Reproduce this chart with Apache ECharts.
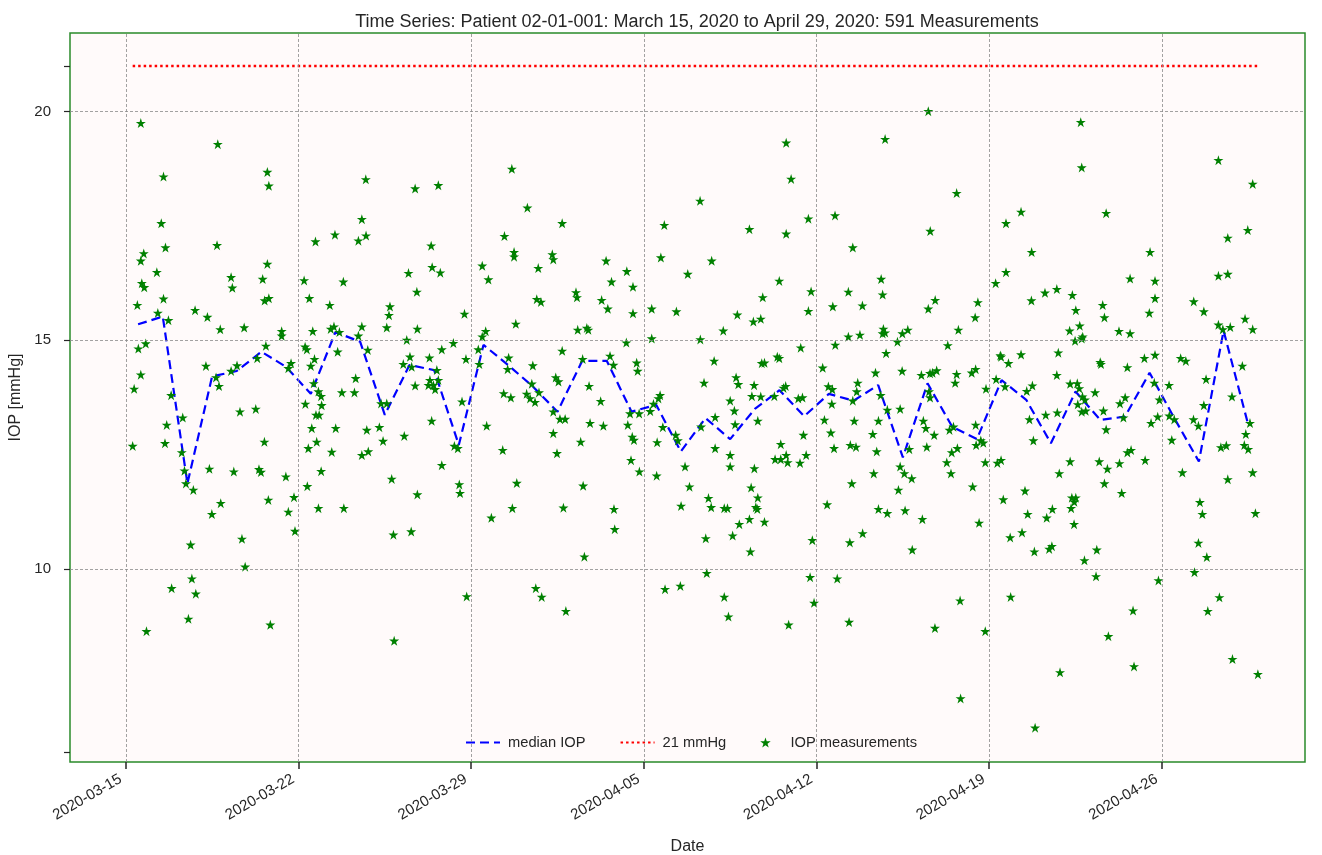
<!DOCTYPE html>
<html>
<head>
<meta charset="utf-8">
<title>IOP time series</title>
<script src="https://cdn.jsdelivr.net/npm/echarts@6/dist/echarts.min.js"></script>
<style>
  html, body { margin: 0; padding: 0; background: #ffffff; }
  #chart { width: 1322px; height: 855px; }
</style>
</head>
<body>
<div id="chart"></div>
<script>
// all times are days since 2020-03-15 00:00 (UTC), pressures in mmHg
const startDate = Date.UTC(2020, 2, 15);
const dayMs = 86400000;

const weekTicks = ["2020-03-15", "2020-03-22", "2020-03-29", "2020-04-05", "2020-04-12", "2020-04-19", "2020-04-26"];
const yLabelValues = [10, 15, 20];
const yTickValues = [6, 10, 15, 20, 21];
const thresholdIop = 21;

// daily median, one value per day (plotted at noon)
const medianIop = [15.35, 15.52, 11.87, 14.21, 14.33, 14.75, 14.42, 13.83, 15.18, 14.97,
  13.37, 14.46, 14.35, 12.71, 14.90, 14.46, 13.99, 13.44, 14.55, 14.55,
  13.44, 13.59, 12.57, 13.30, 12.84, 13.50, 13.91, 13.34, 13.83, 13.68,
  14.02, 12.44, 14.06, 13.11, 12.84, 14.13, 13.70, 12.75, 13.88, 13.26,
  13.33, 14.29, 13.30, 12.35, 15.21, 13.15];

// [day, IOP]
const iopMeasurements = [
  [0.61,19.75],[3.73,19.29],[1.53,18.58],[5.74,18.68],[5.80,18.38],[1.44,17.56],[1.61,17.03],[3.70,17.08],[0.73,16.90],[0.61,16.74],
  [5.74,16.67],[1.26,16.49],[4.27,16.38],[4.32,16.15],[5.55,16.34],[0.65,16.25],[0.75,16.16],[1.53,15.91],[5.63,15.87],[5.80,15.92],
  [0.47,15.77],[2.81,15.66],[3.31,15.51],[1.30,15.60],[1.73,15.44],[3.83,15.24],[4.80,15.28],[6.32,15.20],[6.32,15.10],[7.69,17.16],
  [7.23,16.31],[7.44,15.92],[7.58,15.20],[0.51,14.82],[0.81,14.93],[0.61,14.25],[0.34,13.94],[1.84,13.80],[1.66,13.15],[2.31,13.31],
  [3.25,14.44],[3.66,14.19],[3.78,14.00],[4.27,14.33],[4.51,14.45],[4.63,13.44],[5.27,13.50],[5.68,14.88],[5.33,14.61],[6.70,14.50],
  [6.59,14.39],[7.27,14.86],[7.34,14.80],[7.65,14.59],[7.50,14.44],[7.62,14.06],[7.81,13.88],[7.92,13.78],[7.28,13.61],[7.94,13.58],
  [7.71,13.37],[7.84,13.37],[7.54,13.08],
  [0.28,12.69],[1.59,12.75],[2.27,12.55],[2.38,12.15],[2.44,11.87],[2.74,11.73],[3.39,12.19],[4.38,12.13],[5.40,12.18],[5.48,12.12],
  [5.62,12.78],[6.49,12.02],[5.78,11.51],[6.82,11.57],[6.59,11.25],[6.86,10.83],[3.85,11.44],[3.49,11.20],[2.63,10.53],[4.71,10.66],
  [4.84,10.05],[2.68,9.79],[1.86,9.58],[2.84,9.46],[2.54,8.91],[0.84,8.64],[5.86,8.78],[7.74,12.78],[7.40,12.64],[7.92,12.14],
  [7.36,11.81],[7.81,11.33],
  [9.73,18.52],[11.73,18.32],[12.67,18.39],[15.65,18.75],[16.28,17.90],[9.57,17.65],[8.48,17.31],[9.43,17.18],[9.74,17.29],[12.38,17.07],
  [15.35,17.28],[15.74,16.93],[15.74,16.83],[8.82,16.28],[11.46,16.47],[12.42,16.60],[12.75,16.48],[11.80,16.06],[14.45,16.63],[14.70,16.33],
  [8.27,15.77],[10.71,15.74],[10.67,15.55],[10.58,15.28],[13.73,15.58],[15.81,15.36],[8.31,15.25],[8.44,15.30],[8.66,15.18],[9.57,15.30],
  [9.43,15.10],[11.82,15.25],[11.39,15.01],[14.45,15.08],[14.59,15.20],[8.59,14.75],[9.81,14.79],[11.52,14.64],[12.31,14.62],[12.81,14.80],
  [13.28,14.94],[13.79,14.59],[14.29,14.80],[11.25,14.48],[11.59,14.42],[12.61,14.35],[14.33,14.48],[15.52,14.62],[15.48,14.37],[9.32,14.17],
  [8.76,13.86],[9.27,13.86],[11.73,14.01],[12.33,14.13],[12.47,14.02],[12.27,14.02],[12.54,13.93],[12.67,14.13],[15.32,13.84],[15.61,13.75],
  [10.35,13.62],[10.58,13.62],[13.63,13.66],[12.40,13.24],[8.51,13.08],[9.77,13.04],[10.28,13.10],[14.63,13.13],
  [8.35,12.56],[9.57,12.49],[9.83,12.57],[10.43,12.80],[11.29,12.91],[13.32,12.69],[13.46,12.64],[15.28,12.60],[10.78,11.97],[12.81,12.27],
  [13.52,11.85],[13.55,11.66],[11.82,11.63],[15.85,11.88],[15.67,11.33],[14.82,11.12],[8.84,11.33],[10.85,10.75],[11.57,10.82],[13.82,9.40],
  [10.88,8.43],
  [17.69,17.56],[23.28,18.05],[21.83,17.52],[17.29,16.88],[17.33,16.77],[16.72,16.58],[19.47,16.74],[20.31,16.51],[19.69,16.28],[20.56,16.17],
  [21.69,16.81],[23.75,16.74],[22.78,16.45],[16.66,15.90],[16.83,15.84],[18.25,16.05],[18.29,15.94],[19.29,15.88],[19.54,15.69],[20.56,15.59],
  [21.32,15.69],[22.32,15.63],[18.32,15.23],[18.69,15.27],[18.75,15.23],[24.22,15.21],[21.32,15.04],[20.29,14.95],[23.29,15.02],[17.69,14.77],
  [18.52,14.59],[19.63,14.66],[19.77,14.46],[20.71,14.51],[20.75,14.33],[23.85,14.55],[16.50,14.45],[17.43,14.19],[17.54,14.10],[16.46,14.05],
  [18.78,14.00],[23.44,14.07],[16.25,13.83],[16.39,13.73],[16.59,13.65],[16.75,13.86],[19.25,13.67],[17.33,13.44],[17.60,13.28],[17.81,13.28],
  [18.82,13.19],[19.36,13.13],[20.35,13.15],[20.44,13.40],[20.81,13.40],[21.26,13.45],[21.39,13.61],[21.59,13.73],[21.66,13.80],[21.77,13.10],
  [23.32,13.11],[23.89,13.32],
  [17.33,12.97],[18.44,12.78],[17.48,12.53],[20.53,12.89],[20.60,12.82],[20.48,12.38],[20.82,12.13],[21.54,12.77],[22.29,12.93],[22.38,12.81],
  [23.89,12.64],[18.54,11.82],[21.52,12.04],[22.67,12.24],[22.85,11.80],[23.62,11.55],[23.73,11.35],[22.51,11.38],[17.74,11.34],[19.79,11.31],
  [19.82,10.87],[23.51,10.67],[18.59,10.27],[23.55,9.91],[16.62,9.58],[16.86,9.39],[17.84,9.08],[21.86,9.56],[22.48,9.63],[24.26,9.39],
  [24.26,11.33],
  [26.77,19.32],[26.97,18.53],[30.78,19.40],[25.28,17.43],[26.77,17.33],[27.67,17.66],[28.75,17.73],[29.47,17.03],[26.49,16.30],[27.78,16.07],
  [25.82,15.94],[24.79,15.56],[25.44,15.41],[25.74,15.47],[27.67,15.64],[28.66,15.74],[29.29,16.06],[29.86,15.76],[30.62,16.34],[30.68,16.00],
  [29.29,15.08],[29.76,15.12],[30.71,15.25],[30.78,15.17],[30.68,15.15],[31.28,14.97],[31.48,15.15],[31.70,15.23],[27.36,14.84],[28.76,14.90],
  [30.82,14.72],[25.78,14.50],[25.89,14.51],[26.41,14.64],[26.49,14.61],[28.25,14.40],[30.39,14.29],[31.47,14.33],[32.25,14.24],[24.74,14.19],
  [24.83,14.04],[25.47,14.02],[25.38,13.78],[25.74,13.77],[26.29,13.78],[26.66,13.96],[26.75,14.00],[27.26,13.73],[27.43,13.75],[28.48,13.99],
  [28.64,13.93],[28.62,13.61],[29.47,13.68],[29.67,14.07],[29.63,13.88],[30.60,13.80],[30.87,13.48],[31.39,13.50],[24.50,13.68],[24.67,13.46],
  [24.70,13.16],[25.62,13.24],[28.32,13.26],[29.53,13.24],[30.51,13.24],[32.33,13.24],
  [27.47,12.93],[28.58,12.98],[30.28,12.95],[26.55,12.73],[29.37,12.71],[29.60,12.67],[28.71,12.64],[30.44,12.57],[31.76,12.62],[24.50,12.49],
  [24.50,12.24],[25.48,12.20],[26.32,12.40],[26.55,12.40],[26.77,12.49],[26.83,12.33],[27.33,12.32],[27.58,12.49],[25.35,11.78],[25.62,11.56],
  [24.39,11.33],[25.54,11.35],[25.60,11.31],[25.28,11.09],[25.89,11.03],[24.87,10.98],[24.60,10.73],[25.32,10.38],[27.83,10.63],[27.74,9.82],
  [27.90,9.26],[24.43,8.96],[26.87,8.78],[28.84,9.79],[29.32,8.84],[28.43,11.41],[29.43,11.87],[30.32,12.09],[30.51,11.31],[30.87,11.22],
  [31.59,11.28],[29.87,10.78],[29.35,10.58],[31.39,12.24],[31.56,12.09],[31.86,11.98],[31.32,11.73],[31.88,10.42],[32.29,11.09],
  [32.53,20.01],[38.71,19.77],[38.75,18.78],[33.68,18.22],[39.74,17.78],[32.61,17.39],[35.68,17.56],[36.29,17.81],[36.72,16.93],[35.68,16.49],
  [35.26,16.25],[32.81,15.88],[32.53,15.69],[34.54,15.83],[34.43,15.50],[33.75,15.23],[33.32,14.89],[36.71,15.87],[37.26,16.04],[37.74,16.12],
  [38.37,15.99],[38.51,15.66],[39.60,15.77],[39.67,15.50],[40.26,15.20],[38.26,15.21],[38.67,15.32],[38.48,14.99],[38.75,15.04],[38.79,15.08],
  [35.45,14.67],[35.48,14.64],[35.78,14.50],[36.29,14.69],[37.80,14.73],[39.50,14.52],[39.53,14.48],[32.60,14.28],[32.70,14.29],[32.87,14.34],
  [33.68,14.26],[33.62,14.07],[34.29,14.29],[34.45,14.37],[37.74,14.24],[35.28,14.15],[35.64,13.99],[36.52,13.89],[36.75,14.01],[38.28,14.05],
  [38.57,14.06],[38.65,13.95],[38.78,13.77],[38.59,13.60],[38.75,13.44],[38.91,13.46],[38.88,13.70],[39.29,13.86],[40.30,13.62],[40.51,13.75],
  [39.63,13.46],[32.56,13.88],[32.60,13.75],[34.87,13.94],[33.55,13.11],[34.45,13.15],[36.63,13.27],[37.29,13.37],[37.76,13.42],[39.74,13.05],
  [32.43,13.08],[32.77,12.93],[32.47,12.67],[33.39,13.04],[34.47,12.71],[34.66,12.81],[34.76,12.76],[33.48,12.55],[33.71,12.64],[33.28,12.33],
  [33.45,12.09],[34.84,12.33],[34.33,11.80],[34.59,11.01],[35.33,12.32],[35.48,12.38],[36.79,12.81],[38.28,12.35],[37.84,12.09],[39.46,12.35],
  [39.79,12.19],[40.28,12.31],[39.67,11.87],[40.37,11.66],[36.45,11.71],[35.57,11.52],[36.56,11.20],[35.85,10.69],[36.33,10.80],[36.83,10.38],
  [37.43,10.44],[37.54,10.50],[37.56,11.31],[37.33,11.12],[38.35,11.56],[38.51,11.56],[38.45,11.47],[38.32,11.33],[38.44,10.98],[38.86,10.19],
  [39.36,10.42],[39.33,9.84],[33.82,9.31],[35.87,9.39],[32.80,8.71],[34.84,8.64],[39.83,8.53],[37.87,7.74],[33.84,7.17],[36.86,6.53],
  [44.29,18.94],[45.68,18.42],[45.48,17.41],[44.67,17.24],[41.52,16.93],[40.71,16.35],[41.72,16.30],[44.29,16.41],[44.67,16.45],[41.72,15.92],
  [41.49,15.60],[43.29,15.85],[43.70,15.63],[45.37,15.47],[40.71,15.15],[44.29,15.34],[44.47,15.24],[44.77,15.29],[45.68,15.24],[41.29,14.61],
  [41.72,14.68],[42.76,14.61],[42.97,14.55],[40.60,14.41],[45.26,14.44],[41.69,14.07],[42.29,14.02],[43.79,14.15],[44.84,13.77],[41.90,13.70],
  [43.70,13.58],[40.44,13.31],[41.83,13.33],[42.30,13.35],[42.50,13.27],[43.28,13.27],[43.48,13.13],[41.56,13.19],[45.57,13.19],
  [45.40,12.95],[45.34,12.71],[45.50,12.62],[42.40,12.82],[44.39,12.66],[44.61,12.70],[40.60,12.55],[40.75,12.60],[41.32,12.38],[42.83,12.11],
  [44.67,11.96],[45.68,12.11],[43.54,11.46],[43.64,11.20],[45.79,11.22],[43.48,10.57],[43.82,10.26],[43.32,9.93],[41.86,9.75],[44.33,9.38],
  [43.86,9.08],[40.83,9.09],[40.87,7.87],[44.86,8.03],[45.89,7.70]
];

const toTime = d => startDate + d * dayMs;
const fontFamily = '"Liberation Sans", Arial, sans-serif';
const textColor = '#262626';

// 5 pointed star like matplotlib's "*" marker
function starPath() {
  let p = '';
  for (let i = 0; i < 10; i++) {
    const r = i % 2 === 0 ? 50 : 19.1;
    const a = i * Math.PI / 5;
    p += (i === 0 ? 'M' : 'L') + (50 + r * Math.sin(a)).toFixed(2) + ' ' + (50 - r * Math.cos(a)).toFixed(2);
  }
  return 'path://' + p + 'Z';
}

const scatterData = iopMeasurements.map(m => [toTime(m[0]), m[1]]);
const medianData = medianIop.map((v, i) => [toTime(i + 0.5), v]);
const firstDay = Math.min(...iopMeasurements.map(m => m[0]));
const lastDay = Math.max(...iopMeasurements.map(m => m[0]));
const thresholdData = [[toTime(firstDay), thresholdIop], [toTime(lastDay), thresholdIop]];
const weekTimes = weekTicks.map(d => Date.parse(d));

const chart = echarts.init(document.getElementById('chart'));
chart.setOption({
  animation: false,
  backgroundColor: '#ffffff',
  textStyle: { fontFamily: fontFamily },
  title: {
    text: 'Time Series: Patient 02-01-001: March 15, 2020 to April 29, 2020: 591 Measurements',
    left: 692,
    top: 8,
    textAlign: 'center',
    textStyle: { fontSize: 18, fontWeight: 'normal', color: textColor, fontFamily: fontFamily }
  },
  grid: {
    left: 70, right: 17, top: 33, bottom: 93,
    outerBoundsMode: 'none',
    show: true,
    backgroundColor: '#fffafa',
    borderColor: '#2a8a2a',
    borderWidth: 1.5
  },
  legend: {
    // line series get no marker in the legend, only their stroke
    data: [
      { name: 'median IOP', itemStyle: { opacity: 0 } },
      { name: '21 mmHg', itemStyle: { opacity: 0 } },
      { name: 'IOP measurements' }
    ],
    left: 460,
    top: 730,
    itemWidth: 34,
    itemHeight: 10,
    itemGap: 34,
    textStyle: { fontSize: 14.7, color: textColor, fontFamily: fontFamily, padding: [0, 0, 0, 3] }
  },
  xAxis: {
    // time values on a plain numeric axis, labelled as dates
    type: 'value',
    min: toTime(-2.26),
    max: toTime(47.8),
    name: 'Date',
    nameLocation: 'middle',
    nameGap: 77,
    nameTextStyle: { fontSize: 16, color: textColor },
    axisLine: { show: false },
    axisTick: { show: true, customValues: weekTimes, length: 7, lineStyle: { color: textColor, width: 1.5 } },
    axisLabel: {
      customValues: weekTimes,
      rotate: 30,
      margin: 13,
      padding: [0, 6, 0, 0],
      fontSize: 15,
      color: textColor,
      formatter: v => new Date(v).toISOString().slice(0, 10)
    },
    splitLine: { show: false }
  },
  yAxis: {
    type: 'value',
    min: 5.78,
    max: 21.72,
    name: 'IOP [mmHg]',
    nameLocation: 'middle',
    nameGap: 39,
    nameTextStyle: { fontSize: 16, color: textColor },
    axisLine: { show: false },
    axisTick: { show: true, customValues: yTickValues, length: 6, lineStyle: { color: textColor, width: 1.2 } },
    axisLabel: { customValues: yLabelValues, margin: 19, fontSize: 15, color: textColor },
    splitLine: { show: false }
  },
  series: [
    {
      name: 'grid',
      type: 'line',
      data: [],
      silent: true,
      z: 0,
      markLine: {
        silent: true,
        symbol: 'none',
        label: { show: false },
        lineStyle: { color: '#8a8a8a', type: [3, 2], width: 0.8 },
        data: yLabelValues.map(v => ({ yAxis: v })).concat(weekTimes.map(t => ({ xAxis: t })))
      }
    },
    {
      name: 'median IOP',
      type: 'line',
      data: medianData,
      showSymbol: false,
      symbol: 'none',
      z: 2,
      lineStyle: { color: '#0000ff', width: 2.2, type: [9, 5] },
      itemStyle: { color: '#0000ff' }
    },
    {
      name: '21 mmHg',
      type: 'line',
      data: thresholdData,
      symbol: 'none',
      z: 2,
      lineStyle: { color: '#ff0000', width: 2.5, type: [2.5, 3] },
      itemStyle: { color: '#ff0000' }
    },
    {
      name: 'IOP measurements',
      type: 'scatter',
      data: scatterData,
      symbol: starPath(),
      symbolSize: 10,
      z: 3,
      itemStyle: { color: '#008000', opacity: 1 }
    }
  ]
});
</script>
</body>
</html>
